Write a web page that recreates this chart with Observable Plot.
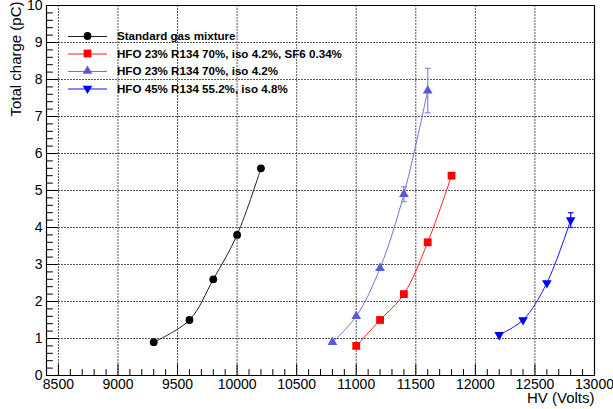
<!DOCTYPE html>
<html><head><meta charset="utf-8">
<script src="https://cdn.jsdelivr.net/npm/d3@7"></script>
<script src="https://cdn.jsdelivr.net/npm/@observablehq/plot@0.6"></script>
<style>
html,body{margin:0;padding:0;background:#fff;}
#chart{position:relative;width:613px;height:409px;}
svg, svg text{font-family:"Liberation Sans",Arial,sans-serif !important;}
#legend{position:absolute;left:0;top:0;font-family:"Liberation Sans",Arial,sans-serif;font-weight:bold;font-size:11.6px;color:#000;}
#legend div{position:absolute;white-space:nowrap;line-height:14px;height:14px;}
</style></head>
<body><div id="chart"><div id="legend"></div></div>
<script>
// Data
const seriesNames = [
  "Standard gas mixture",
  "HFO 23% R134 70%, iso 4.2%, SF6 0.34%",
  "HFO 23% R134 70%, iso 4.2%",
  "HFO 45% R134 55.2%, iso 4.8%"
];
const stdHV = [9300, 9600, 9800, 10000, 10200];
const stdQ  = [0.9, 1.5, 2.6, 3.8, 5.6];
const sf6HV = [11000, 11200, 11400, 11600, 11800];
const sf6Q  = [0.8, 1.5, 2.2, 3.6, 5.4];
const isoHV = [10800, 11000, 11200, 11400, 11600];
const isoQ  = [0.9, 1.6, 2.9, 4.9, 7.7];
const isoErr = [0, 0, 0, 0.2, 0.6];
const hfoHV = [12200, 12400, 12600, 12800];
const hfoQ  = [1.1, 1.5, 2.5, 4.2];
const hfoErr = [0, 0, 0, 0.2];
const xMajor = [8500, 9000, 9500, 10000, 10500, 11000, 11500, 12000, 12500, 13000];
const xMinor = d3.range(8400, 13001, 100).filter(v => v % 500 !== 0);
const yMajor = [0,1,2,3,4,5,6,7,8,9,10];
const yMinor = d3.range(0, 10.001, 0.2).map(v => +v.toFixed(1)).filter(v => Math.abs(v - Math.round(v)) > 1e-6);

const colors = ["#000000", "#ff0000", "#5b57d9", "#0000ff"];
const lineColors = ["#222222", "#ff2020", "#7370e0", "#1010ff"];
const errColors = [null, null, "#8f8ce8", "#2020ff"];
const symbols = ["circle", "square", "triangle", "triangle"];
const rotates = [0, 0, 0, 180];
const rads = [3.9, 4.4, 3.6, 3.6];

const seriesList = [
  {hv: stdHV, q: stdQ, err: null},
  {hv: sf6HV, q: sf6Q, err: null},
  {hv: isoHV, q: isoQ, err: isoErr},
  {hv: hfoHV, q: hfoQ, err: hfoErr}
];

const W = 613, H = 409;
const mL = 46, mR = 19, mT = 5, mB = 34;

const capSymbol = {draw(ctx, size){ const w = Math.sqrt(size); ctx.moveTo(-w, 0); ctx.lineTo(w, 0); }};
const tickShape = {draw(ctx, l){ ctx.moveTo(0, 0); ctx.lineTo(0, -l); }};

const marks = [];
// grid as paths
const gridXRows = xMajor.filter(v => v > 8400 && v < 13000).flatMap(v => [{x: v, y: 0, k: v}, {x: v, y: 10, k: v}]);
const gridYRows = yMajor.filter(v => v > 0 && v < 10).flatMap(v => [{x: 8400, y: v, k: v}, {x: 13000, y: v, k: v}]);
marks.push(Plot.line(gridXRows, {x: "x", y: "y", z: "k", stroke: "#444", strokeWidth: 1, strokeDasharray: "1,2"}));
marks.push(Plot.line(gridYRows, {x: "x", y: "y", z: "k", stroke: "#444", strokeWidth: 1, strokeDasharray: "1,2"}));
// inward ticks as vector paths
marks.push(Plot.vector(xMajor, {x: d => d, frameAnchor: "bottom", length: 11, rotate: 0, anchor: "start", shape: tickShape, stroke: "#000", strokeWidth: 1}));
marks.push(Plot.vector(xMinor, {x: d => d, frameAnchor: "bottom", length: 6, rotate: 0, anchor: "start", shape: tickShape, stroke: "#000", strokeWidth: 1}));
marks.push(Plot.vector(yMajor, {y: d => d, frameAnchor: "left", length: 11, rotate: 90, anchor: "start", shape: tickShape, stroke: "#000", strokeWidth: 1}));
marks.push(Plot.vector(yMinor, {y: d => d, frameAnchor: "left", length: 6, rotate: 90, anchor: "start", shape: tickShape, stroke: "#000", strokeWidth: 1}));
// tick labels
marks.push(Plot.axisX({ticks: xMajor, tickSize: 0, tickPadding: 4, fontSize: 14, label: null, tickFormat: d => String(d)}));
marks.push(Plot.axisY({ticks: yMajor, tickSize: 0, tickPadding: 4, fontSize: 14, label: null, tickFormat: d => String(d)}));
// frame as closed path
const frameRows = [{x: 8400, y: 0}, {x: 13000, y: 0}, {x: 13000, y: 10}, {x: 8400, y: 10}, {x: 8400, y: 0}];
marks.push(Plot.line(frameRows, {x: "x", y: "y", stroke: "#000", strokeWidth: 1.2}));

seriesList.forEach((s, i) => {
  const rows = s.hv.map((x, j) => ({x, y: s.q[j], e: s.err ? s.err[j] : 0}));
  marks.push(Plot.line(rows, {x: "x", y: "y", stroke: lineColors[i], strokeWidth: 1, curve: "catmull-rom"}));
  const er = rows.filter(r => r.e > 0);
  if (er.length) {
    marks.push(Plot.link(er, {x1: "x", x2: "x", y1: r => r.y - r.e, y2: r => r.y + r.e, stroke: errColors[i], strokeWidth: 1.3}));
    marks.push(Plot.dot(er, {x: "x", y: r => r.y + r.e, symbol: capSymbol, r: 1.6, stroke: errColors[i], strokeWidth: 1.3, fill: "none"}));
    marks.push(Plot.dot(er, {x: "x", y: r => r.y - r.e, symbol: capSymbol, r: 1.6, stroke: errColors[i], strokeWidth: 1.3, fill: "none"}));
  }
  marks.push(Plot.dot(rows, {x: "x", y: "y", symbol: symbols[i], r: rads[i], fill: colors[i], stroke: "none", rotate: rotates[i]}));
});

// axis titles
marks.push(Plot.text(["HV (Volts)"], {frameAnchor: "bottom-right", dy: 27, textAnchor: "end", fontSize: 15, fill: "#000"}));
marks.push(Plot.text(["Total charge (pC)"], {frameAnchor: "top-left", dx: -36, dy: -4, rotate: -90, textAnchor: "end", fontSize: 15, fill: "#000"}));

const chart = Plot.plot({
  width: W, height: H,
  marginLeft: mL, marginRight: mR, marginTop: mT, marginBottom: mB,
  x: {domain: [8400, 13000]},
  y: {domain: [0, 10]},
  marks
});
const host = document.getElementById("chart");
host.insertBefore(chart, host.firstChild);

// legend: line + marker in svg (paths), labels as HTML text
const rowY = [36, 53.5, 71, 88.5];
const d3sym = [d3.symbolCircle, d3.symbolSquare, d3.symbolTriangle, d3.symbolTriangle];
const lg = d3.select(chart).append("g");
const legendDiv = d3.select("#legend");
seriesNames.forEach((label, i) => {
  const y = rowY[i];
  lg.append("path").attr("d", `M68,${y + 0.5}H107`).attr("fill", "none")
    .attr("stroke", lineColors[i]).attr("stroke-width", 1.2);
  lg.append("path").attr("d", d3.symbol(d3sym[i], Math.PI * rads[i] * rads[i])())
    .attr("transform", `translate(87.5,${y}) rotate(${rotates[i]})`).attr("fill", colors[i]);
  legendDiv.append("div").style("left", "117px").style("top", (y - 7) + "px").text(label);
});
</script></body></html>
